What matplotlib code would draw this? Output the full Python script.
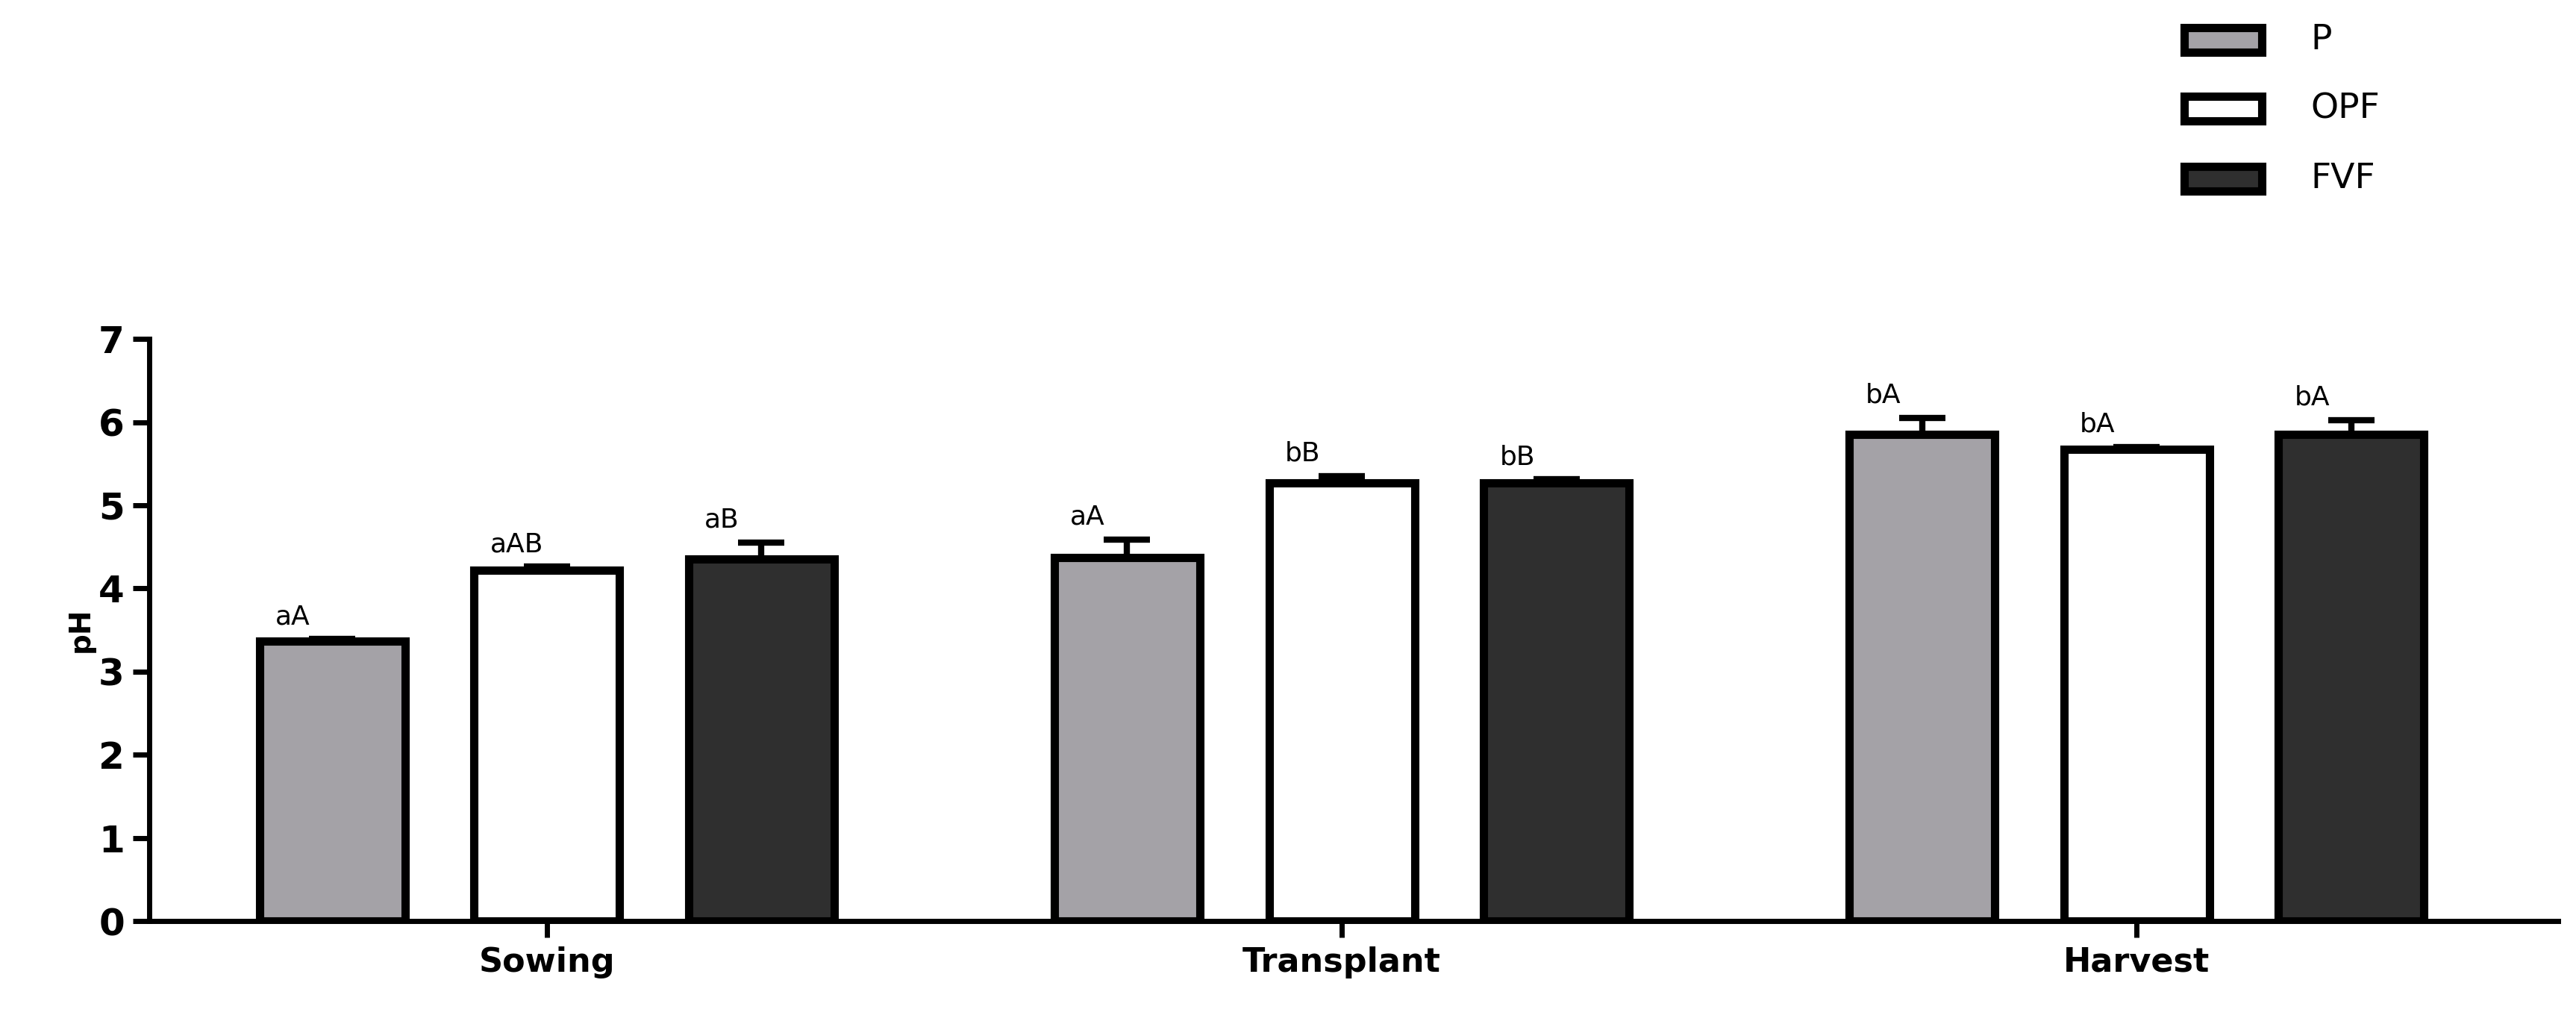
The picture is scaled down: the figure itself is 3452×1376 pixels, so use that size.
import matplotlib
matplotlib.use("Agg")
import matplotlib.pyplot as plt
import numpy as np
from matplotlib.patches import Rectangle

categories = ["Sowing", "Transplant", "Harvest"]
series = ["P", "OPF", "FVF"]
values = {"P": [3.37, 4.37, 5.85], "OPF": [4.22, 5.27, 5.67], "FVF": [4.35, 5.27, 5.85]}
errors = {"P": [0.02, 0.22, 0.20], "OPF": [0.04, 0.08, 0.03], "FVF": [0.20, 0.04, 0.17]}
letters = {"P": ["aA", "aA", "bA"], "OPF": ["aAB", "bB", "bA"], "FVF": ["aB", "bB", "bA"]}
colors = {"P": "#a4a2a7", "OPF": "#ffffff", "FVF": "#2f2f2f"}

fig = plt.figure(figsize=(34.52, 13.76), dpi=100)
ax = fig.add_axes([0.058, 0.103, 0.935, 0.567])
x = np.arange(len(categories))
offs = [-0.27, 0, 0.27]
w = 0.183
for s, o in zip(series, offs):
    ax.bar(x + o, values[s], w, color=colors[s], edgecolor="black", linewidth=8, zorder=3)
    ax.errorbar(x + o, values[s], yerr=[np.zeros(3), errors[s]], fmt="none", ecolor="black",
                elinewidth=6, capsize=22, capthick=6, zorder=2)
    for xi, v, e, t in zip(x + o, values[s], errors[s], letters[s]):
        ax.text(xi - w / 2 + 0.02, v + e + 0.12, t, fontsize=26, ha="left", va="bottom")

ax.set_xlim(-0.5, 2.53)
ax.set_ylim(0, 7)
ax.set_yticks(range(8))
ax.set_xticks(x)
ax.set_xticklabels(categories, fontsize=32, fontweight="bold")
for lab in ax.get_yticklabels():
    lab.set_fontsize(36); lab.set_fontweight("bold")
ax.set_ylabel("pH", fontsize=28, fontweight="bold")
for sp in ["top", "right"]:
    ax.spines[sp].set_visible(False)
for sp in ["left", "bottom"]:
    ax.spines[sp].set_linewidth(5)
ax.tick_params(direction="out", length=16, width=5, pad=8)

ys = [0.961, 0.894, 0.826]
for s, yy in zip(series, ys):
    fig.patches.append(Rectangle((0.848, yy - 0.012), 0.03, 0.024, transform=fig.transFigure,
                                 facecolor=colors[s], edgecolor="black", linewidth=8))
    fig.text(0.897, yy, s, fontsize=34, va="center", ha="left")

fig.savefig("out.png", dpi=100)
